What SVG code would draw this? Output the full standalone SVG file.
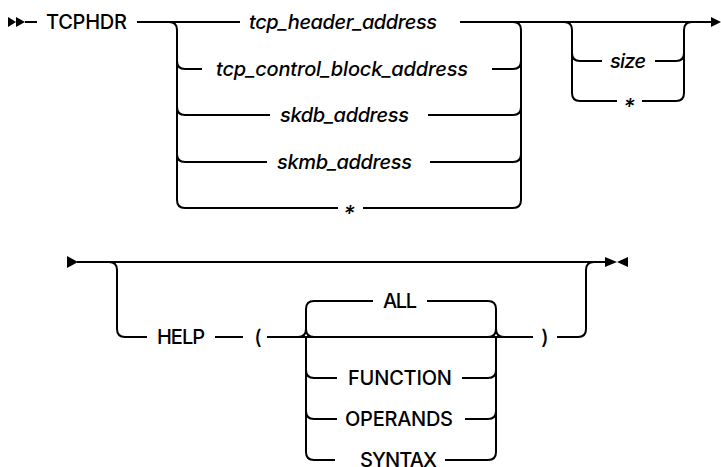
<svg xmlns="http://www.w3.org/2000/svg" width="721" height="467" viewBox="0 0 721 467">
<style>
.l{fill:none;stroke:#000;stroke-width:2}
.t{font-family:Inter,"Liberation Sans",Arial,sans-serif;font-size:20px;font-weight:500;fill:#000}
.i{font-style:italic}
.s{font-size:22px}
.m{fill:#000}
</style>
<rect width="721" height="467" fill="#fff"/>
<g id="connectors">
<!-- diagram 1 -->
<path class="l" d="M25 22H37M137 22H240M460 22H712"/>
<path class="l" d="M169 22Q177 22 177 30V200Q177 208 185 208H338M177 61Q177 69 185 69H202M177 107Q177 115 185 115H270M177 154Q177 162 185 162H267"/>
<path class="l" d="M513 22Q521 22 521 30V200Q521 208 513 208H363M492 69H513Q521 69 521 61M428 115H513Q521 115 521 107M430 162H513Q521 162 521 154"/>
<path class="l" d="M564 22Q572 22 572 30V93Q572 101 580 101H617M572 53Q572 61 580 61H602"/>
<path class="l" d="M655 61H676Q684 61 684 53M642 101H676Q684 101 684 93V30Q684 22 692 22"/>
<!-- diagram 2 -->
<path class="l" d="M77 262H605"/>
<path class="l" d="M109 262Q117 262 117 270V329Q117 337 125 337H147M215 337H243M267 337H533M557 337H578Q586 337 586 329V270Q586 262 594 262"/>
<path class="l" d="M373 301H314Q306 301 306 309V329Q306 337 298 337M306 329Q306 337 314 337M306 337V452Q306 460 314 460H335M306 370Q306 378 314 378H337M306 411Q306 419 314 419H337"/>
<path class="l" d="M427 301H488Q496 301 496 309V329Q496 337 504 337M496 329Q496 337 488 337M496 337V452Q496 460 488 460H445M462 378H488Q496 378 496 370M465 419H488Q496 419 496 411"/>
</g>
<g id="markers">
<polygon class="m" points="8,17 16,22 8,27"/>
<polygon class="m" points="16,17 25,22 16,27"/>
<polygon class="m" points="711,17 721,22 711,27"/>
<polygon class="m" points="67,256 78,262 67,268"/>
<polygon class="m" points="605,257 617,262 605,267"/>
<polygon class="m" points="628,257 617,262 628,267"/>
</g>
<g id="n-tcphdr"><text class="t" x="46" y="29" textLength="81">TCPHDR</text></g>
<g id="n-tcp_header_address"><text class="t i" x="249" y="29" textLength="188">tcp_header_address</text></g>
<g id="n-tcp_control_block_address"><text class="t i" x="216" y="76" textLength="252">tcp_control_block_address</text></g>
<g id="n-skdb_address"><text class="t i" x="280" y="122" textLength="129">skdb_address</text></g>
<g id="n-skmb_address"><text class="t i" x="277" y="169" textLength="135">skmb_address</text></g>
<g id="n-star1"><text class="t i s" x="349" y="221" text-anchor="middle">*</text></g>
<g id="n-size"><text class="t i" x="610" y="68" textLength="36">size</text></g>
<g id="n-star2"><text class="t i s" x="629" y="114" text-anchor="middle">*</text></g>
<g id="n-help"><text class="t" x="157" y="344" textLength="48">HELP</text></g>
<g id="n-lparen"><text class="t" x="258" y="344" text-anchor="middle">(</text></g>
<g id="n-all"><text class="t" x="383" y="308" textLength="34">ALL</text></g>
<g id="n-function"><text class="t" x="348" y="385" textLength="104">FUNCTION</text></g>
<g id="n-operands"><text class="t" x="345" y="426" textLength="108">OPERANDS</text></g>
<g id="n-syntax"><text class="t" x="360" y="467" textLength="77">SYNTAX</text></g>
<g id="n-rparen"><text class="t" x="545" y="344" text-anchor="middle">)</text></g>
</svg>
